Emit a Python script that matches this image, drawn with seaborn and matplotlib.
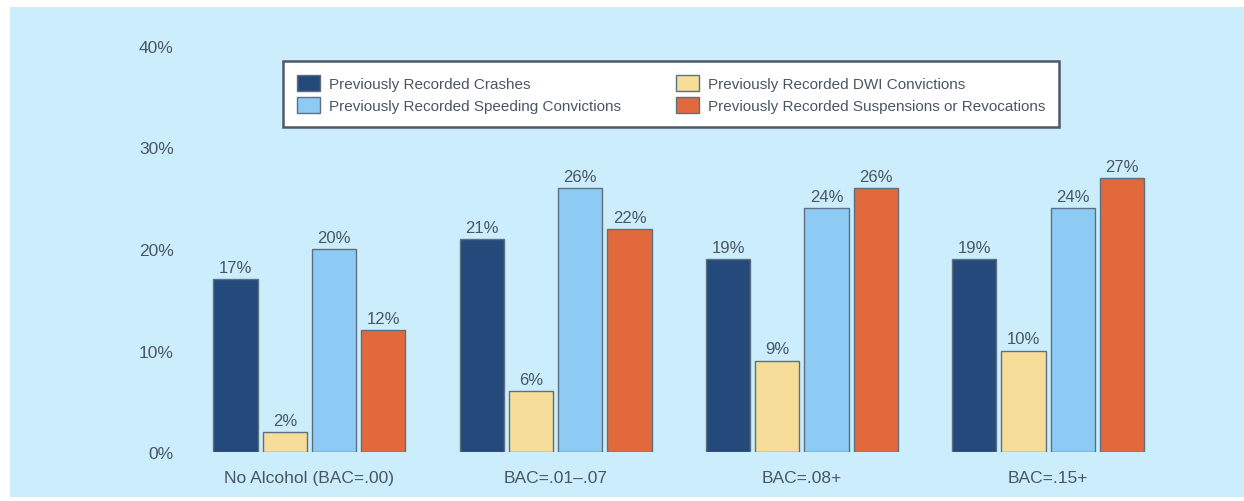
import matplotlib
matplotlib.use("Agg")
import matplotlib.pyplot as plt
from matplotlib.patches import Rectangle
import seaborn as sns
import pandas as pd

# data
groups = ["No Alcohol (BAC=.00)", "BAC=.01\u2013.07", "BAC=.08+", "BAC=.15+"]
series = [
    "Previously Recorded Crashes",
    "Previously Recorded DWI Convictions",
    "Previously Recorded Speeding Convictions",
    "Previously Recorded Suspensions or Revocations",
]
crashes = [17, 21, 19, 19]
dwi = [2, 6, 9, 10]
speeding = [20, 26, 24, 24]
suspensions = [12, 22, 26, 27]
y_ticks = [0, 10, 20, 30, 40]

colors = ["#244a7c", "#f6dd9a", "#8dcbf4", "#e1693b"]
panel_bg = "#cceefc"
text_col = "#4a5663"

sns.set_theme(style="white")
plt.rcParams["font.family"] = ["Liberation Sans", "DejaVu Sans"]

rows = []
for name, vals in zip(series, [crashes, dwi, speeding, suspensions]):
    for g, v in zip(groups, vals):
        rows.append({"group": g, "series": name, "pct": v})
df = pd.DataFrame(rows)

W, H = 1244, 502
fig = plt.figure(figsize=(W / 100, H / 100), dpi=100)
fig.patch.set_facecolor("white")
fig.patches.append(Rectangle((10 / W, 4 / H), 1 - 10 / W, 1 - 12 / H,
                             transform=fig.transFigure, facecolor=panel_bg,
                             edgecolor="none", zorder=-10))

ax = fig.add_axes([178 / W, 49 / H, (1230 - 178) / W, (455 - 49) / H])
ax.set_facecolor("none")

sns.barplot(data=df, x="group", y="pct", hue="series", order=groups,
            hue_order=series, palette=dict(zip(series, colors)),
            saturation=1, width=0.8, gap=0.1, edgecolor="#5d6f80",
            linewidth=1, ax=ax)

for c in ax.containers:
    ax.bar_label(c, labels=[f"{v:.0f}%" for v in c.datavalues], padding=3,
                 fontsize=12, color=text_col)

ax.set_ylim(0, 40)
ax.set_xlim(-0.534, 3.739)
ax.set_yticks(y_ticks)
ax.set_yticklabels([f"{t}%" for t in y_ticks])
ax.tick_params(axis="y", length=0, pad=3, labelsize=12.5, labelcolor=text_col)
ax.tick_params(axis="x", length=0, pad=13, labelsize=12.5, labelcolor=text_col)
ax.set_xlabel("")
ax.set_ylabel("")
sns.despine(ax=ax, left=True, bottom=True)

# legend: two columns, crashes/speeding on the left, dwi/suspensions right
handles, labels = ax.get_legend_handles_labels()
order = [0, 2, 1, 3]
ax.get_legend().remove()
leg = fig.legend([handles[i] for i in order], [labels[i] for i in order],
                 ncol=2, loc="upper left",
                 bbox_to_anchor=(283 / W, 1 - 62 / H),
                 bbox_transform=fig.transFigure, fontsize=11,
                 handlelength=1.5, handleheight=1.3, handletextpad=0.6,
                 labelspacing=0.35, borderpad=0.9, borderaxespad=0,
                 columnspacing=3.6, fancybox=False,
                 frameon=True, facecolor="white", edgecolor="#4d5a66",
                 framealpha=1)
leg.get_frame().set_linewidth(1.8)
for t in leg.get_texts():
    t.set_color(text_col)

fig.savefig("out.png", dpi=100, facecolor=fig.get_facecolor())
